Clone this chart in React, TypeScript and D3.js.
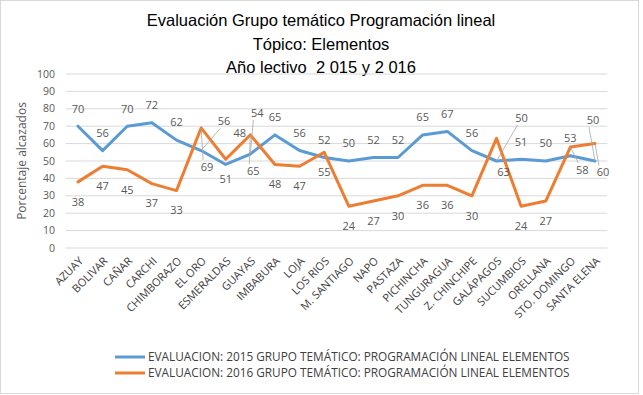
import React from "react";
import * as d3 from "d3";

const categories = [
  "AZUAY", "BOLIVAR", "CAÑAR", "CARCHI", "CHIMBORAZO", "EL ORO", "ESMERALDAS", "GUAYAS",
  "IMBABURA", "LOJA", "LOS RIOS", "M. SANTIAGO", "NAPO", "PASTAZA", "PICHINCHA", "TUNGURAGUA",
  "Z. CHINCHIPE", "GALÁPAGOS", "SUCUMBIOS", "ORELLANA", "STO. DOMINGO", "SANTA ELENA",
];
const values2015 = [70, 56, 70, 72, 62, 56, 48, 54, 65, 56, 52, 50, 52, 52, 65, 67, 56, 50, 51, 50, 53, 50];
const values2016 = [38, 47, 45, 37, 33, 69, 51, 65, 48, 47, 55, 24, 27, 30, 36, 36, 30, 63, 24, 27, 58, 60];
const yTicks = [0, 10, 20, 30, 40, 50, 60, 70, 80, 90, 100];
const seriesNames = [
  "EVALUACION: 2015 GRUPO TEMÁTICO: PROGRAMACIÓN LINEAL ELEMENTOS",
  "EVALUACION: 2016 GRUPO TEMÁTICO: PROGRAMACIÓN LINEAL ELEMENTOS",
];
const titleLines = ["Evaluación Grupo temático Programación lineal", "Tópico: Elementos", "Año lectivo  2 015 y 2 016"];
const yTitle = "Porcentaje alcazados";

// label placement tweaks (layout, not data): [dx, dy, leader]
const nudges2015: Record<number, [number, number, boolean]> = {
  5: [23, -29, true],
  6: [14, -31, false],
  7: [7, -41, true],
  17: [25, -43, true],
  21: [-2, -41, true],
};
const nudges2016: Record<number, [number, number, boolean]> = {
  5: [6, 39, true],
  7: [3, 36, true],
  17: [7, 34, false],
  20: [12, 23, true],
  21: [8, 29, true],
};

const W = 643, H = 395;
const plotLeft = 65.7, plotRight = 607.3, plotTop = 74, plotBottom = 248;
const colors = ["#5B9BD5", "#ED7D31"];
const labelColor = "#595959";
const font = "'Open Sans', 'Noto Sans', sans-serif";

export default function App() {
  const x = d3.scaleBand<string>().domain(categories).range([plotLeft, plotRight]).padding(0);
  const y = d3.scaleLinear().domain([0, 100]).range([plotBottom, plotTop]);
  const cx = (c: string) => (x(c) as number) + x.bandwidth() / 2;
  const line = d3.line<number>().x((_, i) => cx(categories[i])).y((v) => y(v));

  const renderLabels = (vals: number[], defDy: number, nudges: Record<number, [number, number, boolean]>, key: string) =>
    vals.map((v, i) => {
      const px = cx(categories[i]);
      const py = y(v);
      const n = nudges[i];
      const lx = px + (n ? n[0] : 0);
      const ly = py + (n ? n[1] : defDy);
      const leader = n && n[2];
      const ty = ly < py ? ly + 7 : ly - 7;
      return (
        <g key={key + i}>
          {leader && (
            <line x1={lx - 4} y1={ty} x2={px} y2={py} stroke="#A6A6A6" strokeWidth={0.8} />
          )}
          <text x={lx} y={ly} dy="0.35em" textAnchor="middle" fontSize={11} fill={labelColor} fontFamily={font}>
            {v}
          </text>
        </g>
      );
    });

  return (
    <svg width={W} height={H} style={{ position: "absolute", left: 0, top: 0, background: "#fff" }}>
      <rect x={0.5} y={0.5} width={638} height={393} fill="#fff" stroke="#D9D9D9" />
      {titleLines.map((t, i) => (
        <text key={t} x={321} y={26 + i * 23.5} textAnchor="middle" fontSize={16.5} fill="#000" fontFamily="'Liberation Sans', Arial, sans-serif" style={{ whiteSpace: "pre" }}>
          {t}
        </text>
      ))}
      {yTicks.map((t) => (
        <g key={t}>
          <line x1={plotLeft} x2={plotRight} y1={y(t)} y2={y(t)} stroke="#D9D9D9" strokeWidth={1} />
          <text x={55} y={y(t)} dy="0.35em" textAnchor="end" fontSize={10.5} fill={labelColor} fontFamily={font}>
            {t}
          </text>
        </g>
      ))}
      <text transform={`translate(22,${(plotTop + plotBottom) / 2}) rotate(-90)`} textAnchor="middle" fontSize={12} fill={labelColor} fontFamily={font} dy="0.35em">
        {yTitle}
      </text>
      {categories.map((c) => (
        <text key={c} transform={`translate(${cx(c) + 3},${plotBottom + 11}) rotate(-45)`} textAnchor="end" fontSize={11} fill="#404040" fontFamily={font} dy="0.35em">
          {c}
        </text>
      ))}
      <path d={line(values2015) || ""} fill="none" stroke={colors[0]} strokeWidth={3} strokeLinejoin="round" strokeLinecap="round" />
      <path d={line(values2016) || ""} fill="none" stroke={colors[1]} strokeWidth={3} strokeLinejoin="round" strokeLinecap="round" />
      {renderLabels(values2015, -17.5, nudges2015, "a")}
      {renderLabels(values2016, 20, nudges2016, "b")}
      {seriesNames.map((s, i) => (
        <g key={s}>
          <line x1={115} x2={145} y1={357 + i * 16} y2={357 + i * 16} stroke={colors[i]} strokeWidth={3} />
          <text x={148} y={357 + i * 16} dy="0.35em" fontSize={11.8} fill="#404040" fontFamily={font}>
            {s}
          </text>
        </g>
      ))}
    </svg>
  );
}
